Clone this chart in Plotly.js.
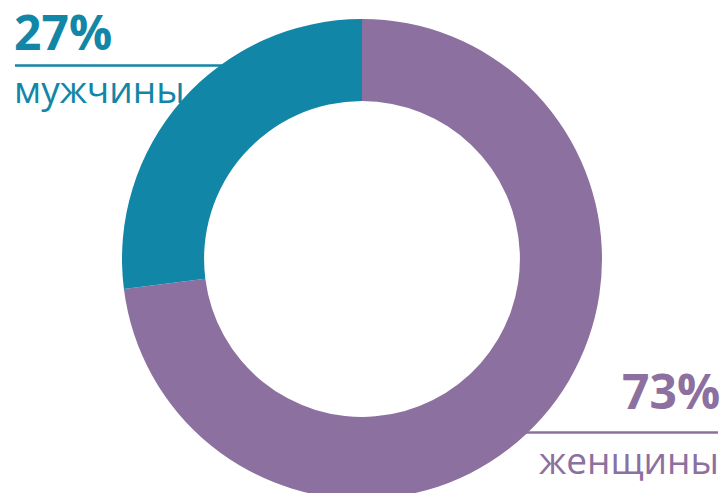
<!DOCTYPE html>
<html><head><meta charset="utf-8">
<script src="https://cdn.plot.ly/plotly-3.0.1.min.js"></script>
<style>html,body{margin:0;padding:0;overflow:hidden;background:#fff;}#chart{width:725px;height:520px;}</style>
</head><body><div id="chart"></div>
<script>
const categories = ["женщины", "мужчины"];
const values = [73, 27];
const valueLabels = ["73%", "27%"];
const colors = ["#8c70a0", "#1286a6"];

const W = 725, H = 520;
const px = x => x / W;
const py = y => 1 - y / H;

const trace = {
  type: "pie",
  labels: categories,
  values: values,
  hole: 0.658,
  sort: false,
  direction: "clockwise",
  rotation: 0,
  marker: {colors: colors, line: {width: 0}},
  textinfo: "none",
  hoverinfo: "none",
  showlegend: false,
  domain: {x: [px(122), px(602)], y: [py(499), py(19)]}
};

const layout = {
  width: W, height: H,
  margin: {l: 0, r: 0, t: 0, b: 0},
  paper_bgcolor: "#fff",
  showlegend: false,
  shapes: [
    {type: "line", xref: "paper", yref: "paper", x0: px(15), x1: px(230), y0: py(65.5), y1: py(65.5), line: {color: colors[1], width: 2.5}, layer: "below"},
    {type: "line", xref: "paper", yref: "paper", x0: px(510), x1: px(718), y0: py(432.5), y1: py(432.5), line: {color: colors[0], width: 2.5}, layer: "below"}
  ],
  annotations: [
    {xref: "paper", yref: "paper", x: px(12), y: py(31), xanchor: "left", yanchor: "middle", showarrow: false,
     text: "<b>" + valueLabels[1] + "</b>", font: {family: "Open Sans", size: 48, color: colors[1]}},
    {xref: "paper", yref: "paper", x: px(12), y: py(88), xanchor: "left", yanchor: "middle", showarrow: false,
     text: categories[1], font: {family: "Open Sans", size: 37, color: colors[1]}},
    {xref: "paper", yref: "paper", x: px(722), y: py(390), xanchor: "right", yanchor: "middle", showarrow: false,
     text: "<b>" + valueLabels[0] + "</b>", font: {family: "Open Sans", size: 48, color: colors[0]}},
    {xref: "paper", yref: "paper", x: px(721), y: py(459), xanchor: "right", yanchor: "middle", showarrow: false,
     text: categories[0], font: {family: "Open Sans", size: 37, color: colors[0]}}
  ]
};

Plotly.newPlot("chart", [trace], layout, {staticPlot: true, displayModeBar: false});
</script></body></html>
